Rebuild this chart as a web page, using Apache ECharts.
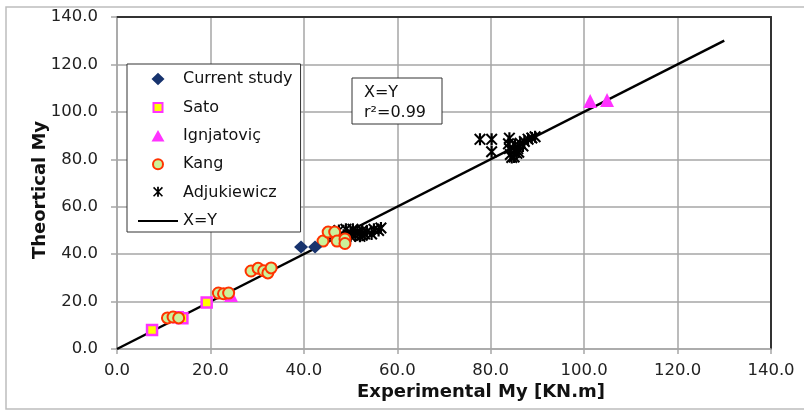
<!DOCTYPE html>
<html>
<head>
<meta charset="utf-8">
<script src="https://cdn.jsdelivr.net/npm/echarts@6/dist/echarts.min.js"></script>
<style>
  html, body { margin: 0; padding: 0; background: #fff; }
  #chart { width: 804px; height: 414px; }
</style>
</head>
<body>
<div id="chart"></div>
<script>
// Experimental vs theoretical yield moment, by source
const currentStudy = [[39.4, 43.0], [42.4, 43.0]];
const sato = [[7.5, 8.0], [13.0, 13.4], [14.0, 13.0], [19.2, 19.6]];
const ignjatovic = [[24.4, 22.8], [101.3, 104.6], [104.9, 105.0]];
const kang = [
  [10.8, 13.1], [12.0, 13.5], [13.2, 13.1],
  [21.7, 23.6], [22.8, 23.3], [23.9, 23.6],
  [28.7, 32.9], [30.2, 34.0], [31.4, 33.0], [32.3, 32.1], [33.0, 34.2],
  [44.1, 45.5], [45.2, 49.3], [46.6, 49.3], [47.1, 45.5], [48.8, 46.4], [48.8, 44.5]
];
const adjukiewicz = [
  [46.5, 48.5], [47.5, 50.0], [48.5, 48.0], [49.0, 50.5], [50.0, 49.0], [50.5, 50.5],
  [51.0, 48.0], [51.5, 49.5], [52.0, 47.5], [52.5, 50.0], [53.0, 48.5], [53.5, 49.5],
  [54.5, 48.5], [55.0, 50.5], [56.0, 50.0], [56.5, 51.0], [50.0, 47.5], [52.5, 48.0],
  [77.7, 88.4], [80.2, 88.4], [80.2, 83.2], [84.0, 88.9], [83.8, 86.5], [84.0, 84.5],
  [84.2, 82.0], [84.5, 80.8], [85.2, 86.0], [85.6, 82.5], [85.8, 84.5], [86.3, 86.8],
  [86.9, 85.6], [87.2, 87.5], [88.0, 88.5], [88.8, 89.0], [89.5, 89.5], [85.0, 81.0],
  [86.0, 83.0]
];
const equalityLine = [[0, 0], [130, 130]];
const seriesNames = ['Current study', 'Sato', 'Ignjatoviç', 'Kang', 'Adjukiewicz', 'X=Y'];
const axisMin = 0, axisMax = 140, axisStep = 20;
const xTitle = 'Experimental My [KN.m]';
const yTitle = 'Theortical My';
const noteLines = ['X=Y', 'r²=0.99'];

// six-armed asterisk marker (X plus vertical bar), all sub-paths wound the same way
const asterisk = 'path://M0 1.2L1.2 0L10 8.8L8.8 10Z M1.2 10L0 8.8L8.8 0L10 1.2Z M4.1 0L5.9 0L5.9 10L4.1 10Z';

// Legend icons drawn inside a 40x14 box (the leading move-tos pin the box),
// so each marker keeps its own proportions in the wide legend slot.
const BOX = 'path://M0 0M40 14';
const legendIcons = {
  'Current study': BOX + 'M13.5 7L20 0.8L26.5 7L20 13.2Z',
  'Sato': BOX + 'M15.5 2.5H24.5V11.5H15.5Z',
  'Ignjatoviç': BOX + 'M13.5 12.8L20 1.2L26.5 12.8Z',
  'Kang': BOX + 'M15 7A5 5 0 1 1 25 7A5 5 0 1 1 15 7Z',
  'Adjukiewicz': BOX + 'M15 2.3L16.1 1.2L25 10.1L23.9 11.2Z M16.1 11.2L15 10.1L23.9 1.2L25 2.3Z M19.1 1.2L20.9 1.2L20.9 11.2L19.1 11.2Z'
};

const FONT = 'DejaVu Sans';
const chart = echarts.init(document.getElementById('chart'), null, { renderer: 'canvas' });

const tickFmt = v => v.toFixed(1);
const gridGray = '#a6a6a6';

// legend entries; the X=Y entry hides the centre dot a line icon would carry
const legendData = seriesNames.map(n => n === 'X=Y'
  ? { name: n, itemStyle: { color: 'rgba(0,0,0,0)', borderWidth: 0 } }
  : { name: n, icon: legendIcons[n] });

chart.setOption({
  backgroundColor: '#fff',
  animation: false,
  textStyle: { fontFamily: FONT },
  grid: { left: 117, right: 33, top: 17, bottom: 65, containLabel: false },
  xAxis: [{
    type: 'value', min: axisMin, max: axisMax, interval: axisStep,
    axisLine: { show: true, onZero: false, lineStyle: { color: gridGray, width: 1.5 } },
    axisTick: { show: true, length: 5, inside: false, lineStyle: { color: gridGray, width: 1.5 } },
    axisLabel: { formatter: tickFmt, margin: 13, fontSize: 16.5, color: '#222', fontFamily: FONT },
    splitLine: { show: true, lineStyle: { color: gridGray, width: 1.5 } }
  }, {
    type: 'value', position: 'top', min: axisMin, max: axisMax, interval: axisStep,
    axisLine: { show: true, onZero: false, lineStyle: { color: '#333', width: 2 } },
    axisTick: { show: false }, axisLabel: { show: false }, splitLine: { show: false }
  }],
  yAxis: [{
    type: 'value', min: axisMin, max: axisMax, interval: axisStep,
    axisLine: { show: true, onZero: false, lineStyle: { color: gridGray, width: 1.5 } },
    axisTick: { show: true, length: 6, inside: false, lineStyle: { color: gridGray, width: 1.5 } },
    axisLabel: { formatter: tickFmt, margin: 19, fontSize: 16.5, color: '#222', fontFamily: FONT },
    splitLine: { show: true, lineStyle: { color: gridGray, width: 1.5 } }
  }, {
    type: 'value', position: 'right', min: axisMin, max: axisMax, interval: axisStep,
    axisLine: { show: true, onZero: false, lineStyle: { color: '#333', width: 2 } },
    axisTick: { show: false }, axisLabel: { show: false }, splitLine: { show: false }
  }],
  legend: {
    orient: 'vertical',
    left: 127, top: 64,
    padding: [6, 8, 2, 10],
    itemWidth: 40, itemHeight: 14, itemGap: 10.4,
    symbolKeepAspect: true,
    backgroundColor: '#fff',
    borderColor: '#333', borderWidth: 1,
    textStyle: { fontSize: 16, color: '#111', fontFamily: FONT, lineHeight: 18 },
    data: legendData
  },
  series: [
    {
      name: seriesNames[5], type: 'line', data: equalityLine, symbol: 'none',
      lineStyle: { color: '#000', width: 2.5 }, itemStyle: { color: '#000' }, z: 3
    },
    {
      name: seriesNames[4], type: 'scatter', data: adjukiewicz,
      symbol: asterisk, symbolSize: 12, itemStyle: { color: '#000', opacity: 1 }, z: 4
    },
    {
      name: seriesNames[1], type: 'scatter', data: sato,
      symbol: 'rect', symbolSize: 10,
      itemStyle: { color: '#ffff00', borderColor: '#ff33ff', borderWidth: 2.5, opacity: 1 }, z: 5
    },
    {
      name: seriesNames[2], type: 'scatter', data: ignjatovic,
      symbol: 'triangle', symbolSize: 14, itemStyle: { color: '#ff33ff', opacity: 1 }, z: 5
    },
    {
      name: seriesNames[3], type: 'scatter', data: kang,
      symbol: 'circle', symbolSize: 11,
      itemStyle: { color: '#ccf29a', borderColor: '#ff3300', borderWidth: 2, opacity: 1 }, z: 6
    },
    {
      name: seriesNames[0], type: 'scatter', data: currentStudy,
      symbol: 'diamond', symbolSize: [14, 13], itemStyle: { color: '#17336e', opacity: 1 }, z: 7
    }
  ],
  graphic: [
    // outer chart frame
    { type: 'rect', shape: { x: 6, y: 7, width: 820, height: 402 },
      style: { fill: 'none', stroke: '#bdbdbd', lineWidth: 1.5 }, silent: true, z: 0 },
    // fit note box
    { type: 'rect', shape: { x: 352, y: 78, width: 90, height: 46 },
      style: { fill: '#fff', stroke: '#333', lineWidth: 1 }, z: 10 },
    { type: 'text', x: 364, y: 93, z: 11,
      style: { text: noteLines[0], font: '16px "' + FONT + '"', fill: '#111', verticalAlign: 'middle' } },
    { type: 'text', x: 364, y: 113, z: 11,
      style: { text: noteLines[1], font: '16px "' + FONT + '"', fill: '#111', verticalAlign: 'middle' } },
    // axis titles
    { type: 'text', x: 481, y: 392, z: 11,
      style: { text: xTitle, font: 'bold 18px "' + FONT + '"', fill: '#111', align: 'center', verticalAlign: 'middle' } },
    { type: 'text', x: 40, y: 190, rotation: Math.PI / 2, z: 11,
      style: { text: yTitle, font: 'bold 18px "' + FONT + '"', fill: '#111', align: 'center', verticalAlign: 'middle' } }
  ]
});
</script>
</body>
</html>
